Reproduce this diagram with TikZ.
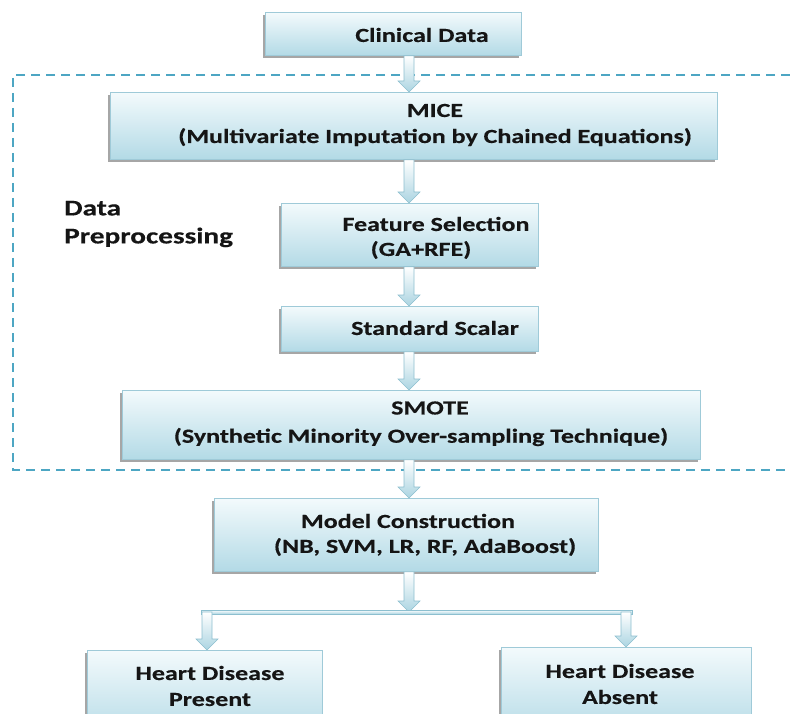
\documentclass[tikz,border=0pt]{standalone}
\usepackage{fontspec}
\setmainfont{Carlito}[FakeStretch=1.3, BoldFeatures={FakeBold=0.4}]
\usetikzlibrary{calc,shadows}
\definecolor{boxtop}{HTML}{F3FAFC}
\definecolor{boxbot}{HTML}{B3DAE6}
\definecolor{boxline}{HTML}{9FCAD8}
\definecolor{dashc}{HTML}{4DA6C3}
\definecolor{txt}{HTML}{151515}
\definecolor{arrline}{HTML}{8DBFCF}
\tikzset{
  stepbox/.style={draw=boxline, line width=0.8pt, top color=boxtop, bottom color=boxbot,
    inner sep=0pt, anchor=north west,
    drop shadow={shadow xshift=-2pt, shadow yshift=-2.5pt, fill=black!50, opacity=0.7}},
  lbl/.style={text=txt, font=\fontsize{20}{26}\selectfont\bfseries, inner sep=0pt, align=center},
  biglbl/.style={text=txt, font=\fontsize{22.5}{28}\selectfont\bfseries, inner sep=0pt, align=left},
  barrow/.style={draw=arrline, line width=0.6pt, top color=white, bottom color=boxbot!80!arrline},
  dashbox/.style={draw=dashc, line width=1.6pt, dash pattern=on 9pt off 6pt},
}
\newcommand{\blockarrow}[3]{%
  \path[barrow] let \p1=(#2), \p2=(#3) in
    (#1pt-5pt,\y1) -- (#1pt+5pt,\y1) -- (#1pt+5pt,\y2+11pt) -- (#1pt+11pt,\y2+11pt)
    -- (#1pt,\y2) -- (#1pt-11pt,\y2+11pt) -- (#1pt-5pt,\y2+11pt) -- cycle;}
\begin{document}
\begin{tikzpicture}[x=1pt,y=-1pt]
\useasboundingbox (0,0) rectangle (790,714);
% dashed preprocessing frame
\draw[dashbox] (790,75) -- (13,75) -- (13,470) -- (790,470);
% boxes
\node[stepbox, minimum width=256pt, minimum height=43pt] (clin) at (265,12) {};
\node[stepbox, minimum width=607pt, minimum height=67pt] (mice) at (110,92) {};
\node[stepbox, minimum width=257pt, minimum height=63pt] (fs) at (281,203) {};
\node[stepbox, minimum width=257pt, minimum height=45pt] (ss) at (281,306) {};
\node[stepbox, minimum width=578pt, minimum height=69pt] (smote) at (122,390) {};
\node[stepbox, minimum width=384pt, minimum height=73pt] (model) at (214,498) {};
\node[stepbox, minimum width=235pt, minimum height=90pt] (pres) at (87,650) {};
\node[stepbox, minimum width=250pt, minimum height=90pt] (abs) at (501,647) {};
% connectors
\coordinate (split) at (409,612);
\coordinate (bl) at (207,612);
\coordinate (br) at (626,612);
\blockarrow{409}{clin.south}{mice.north}
\blockarrow{409}{mice.south}{fs.north}
\blockarrow{409}{fs.south}{ss.north}
\blockarrow{409}{ss.south}{smote.north}
\blockarrow{409}{smote.south}{model.north}
\blockarrow{409}{model.south}{split}
\path[barrow] ($(bl)+(-6,-2)$) rectangle ($(br)+(6,2)$);
\blockarrow{207}{bl}{pres.north}
\blockarrow{626}{br}{abs.north}
% texts
\node[lbl] (tclin) at (422,35) {Clinical Data};
\node[lbl] (tmice) at (435,125) {MICE\\(Multivariate Imputation by Chained Equations)};
\node[biglbl, anchor=west] (tdp) at (64,224) {Data\\Preprocessing};
\node[lbl] (tfs1) at (436,224) {Feature Selection};
\node[lbl] (tfs2) at (421,250) {(GA+RFE)};
\node[lbl] (tss) at (435,328) {Standard Scalar};
\node[lbl] (tsm1) at (430,408) {SMOTE};
\node[lbl] (tsm2) at (421,437) {(Synthetic Minority Over-sampling Technique)};
\node[lbl] (tmo1) at (408,521) {Model Construction};
\node[lbl] (tmo2) at (425,547) {(NB, SVM, LR, RF, AdaBoost)};
\node[lbl] (tpr) at (210,686) {Heart Disease\\Present};
\node[lbl] (tab) at (620,684) {Heart Disease\\Absent};
\end{tikzpicture}
\end{document}
